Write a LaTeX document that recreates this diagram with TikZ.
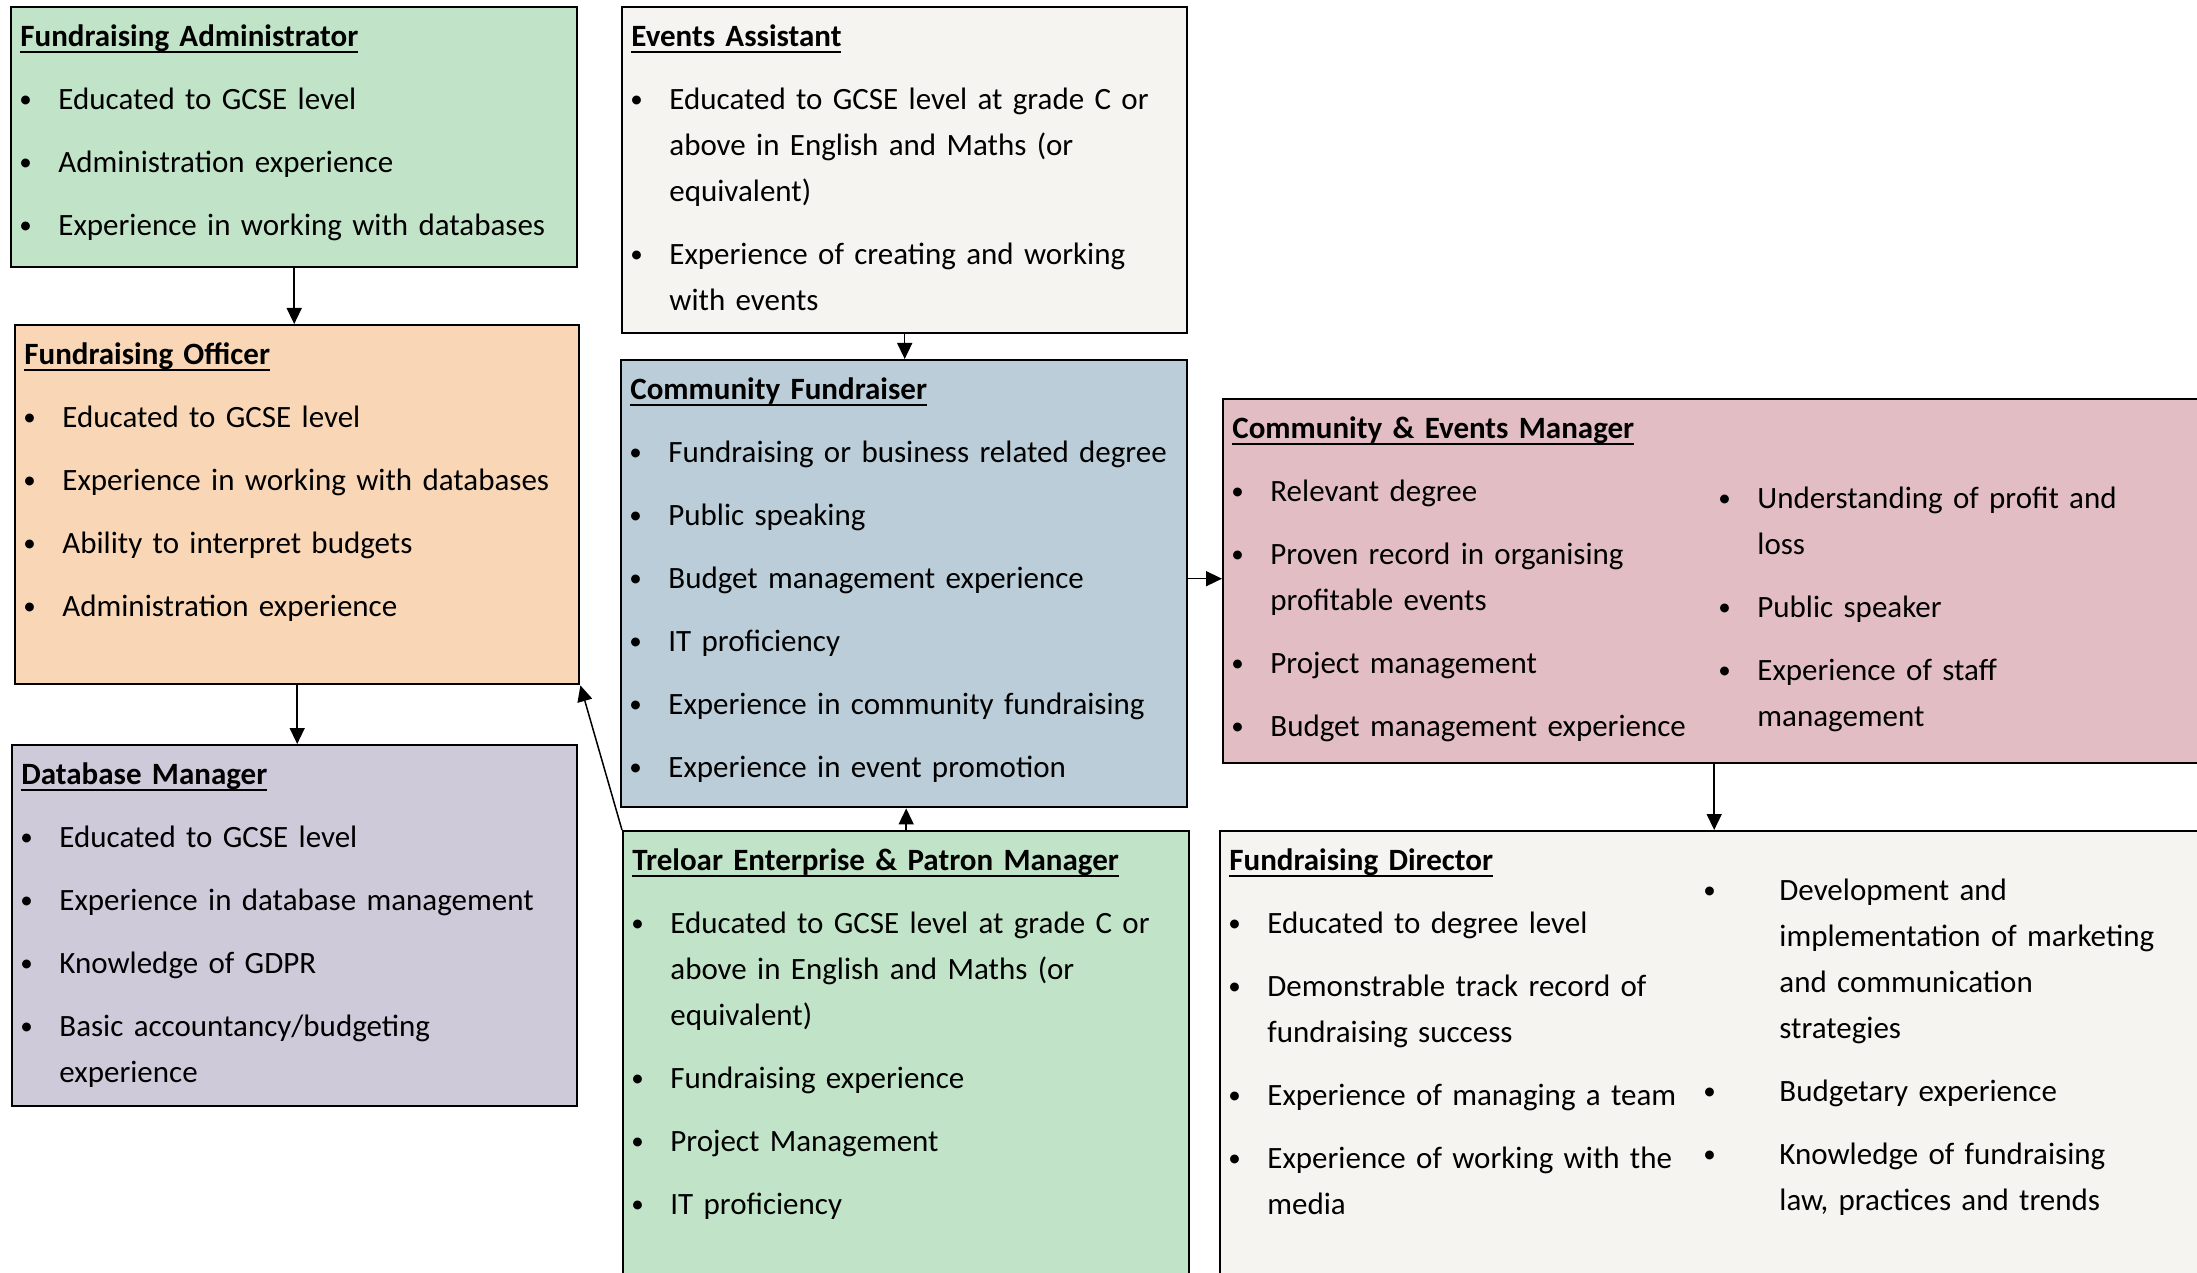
\documentclass[tikz,border=0pt]{standalone}
\usepackage{fontspec}
\setmainfont{Carlito}
\usetikzlibrary{arrows.meta,calc}
\definecolor{greenbox}{HTML}{C1E4C9}
\definecolor{peachbox}{HTML}{F9D7B6}
\definecolor{greybox}{HTML}{BBCDD8}
\definecolor{pinkbox}{HTML}{E2BEC4}
\definecolor{lilacbox}{HTML}{CFCADA}
\definecolor{paperbox}{HTML}{F5F4F0}
\newlength{\dutyindent}
\setlength{\dutyindent}{19pt}
\newcommand{\jobtitle}[1]{\noindent\strut\setbox0\hbox{\bfseries #1}\rlap{\rule[-3pt]{\wd0}{1pt}}\box0\par}
\newcommand{\dutydot}{\raisebox{1pt}{\fontsize{12.5}{12.5}\selectfont\textbullet}}
\newcommand{\duty}[1]{\noindent\hangindent=\dutyindent\hangafter=1\strut\makebox[\dutyindent][l]{\hspace{-0.5pt}\dutydot}#1\par}

\begin{document}
\begin{tikzpicture}[x=0.5pt,y=-0.5pt,
    rolebox/.style={draw=black, line width=1.2pt, anchor=north west, inner sep=0pt},
    duties/.style={anchor=north west, text width=#1, align=left, inner xsep=5pt, inner ysep=4pt,
      font=\fontsize{15.5}{23}\selectfont, execute at begin node={\setlength{\parskip}{8.5pt}}},
    link/.style={line width=0.75pt, -{Triangle[length=8pt,width=7.5pt]}}]
  \clip (0,0) rectangle (2197,1273);
  % boxes
  \node[rolebox, fill=greenbox, minimum width=283pt, minimum height=130pt] (fa) at (10,6) {};
  \node[rolebox, fill=paperbox, minimum width=282.5pt, minimum height=163pt] (ea) at (621,6) {};
  \node[rolebox, fill=peachbox, minimum width=282pt, minimum height=179.5pt] (fo) at (14,324) {};
  \node[rolebox, fill=greybox, minimum width=283pt, minimum height=223.5pt] (cf) at (620,359) {};
  \node[rolebox, fill=pinkbox, minimum width=495pt, minimum height=182pt] (cem) at (1222,398) {};
  \node[rolebox, fill=lilacbox, minimum width=282.5pt, minimum height=180.5pt] (dm) at (11,744) {};
  \node[rolebox, fill=greenbox, minimum width=283pt, minimum height=235pt] (tepm) at (622,830) {};
  \node[rolebox, fill=paperbox, minimum width=497.5pt, minimum height=235pt] (fd) at (1219,830) {};
  % texts
  \node[duties=270pt] (fatext) at (fa.north west) {\jobtitle{Fundraising Administrator}
    \duty{Educated to GCSE level}
    \duty{Administration experience}
    \duty{Experience in working with databases}};
  \node[duties=270pt] (eatext) at (ea.north west) {\jobtitle{Events Assistant}
    \duty{Educated to GCSE level at grade C or\newline above in English and Maths (or\newline equivalent)}
    \duty{Experience of creating and working\newline with events}};
  \node[duties=270pt] (fotext) at (fo.north west) {\jobtitle{Fundraising Officer}
    \duty{Educated to GCSE level}
    \duty{Experience in working with databases}
    \duty{Ability to interpret budgets}
    \duty{Administration experience}};
  \node[duties=270pt] (cftext) at (cf.north west) {\jobtitle{Community Fundraiser}
    \duty{Fundraising or business related degree}
    \duty{Public speaking}
    \duty{Budget management experience}
    \duty{IT proficiency}
    \duty{Experience in community fundraising}
    \duty{Experience in event promotion}};
  \node[duties=240pt] (cemleft) at (cem.north west) {\jobtitle{Community \& Events Manager}
    \duty{Relevant degree}
    \duty{Proven record in organising\newline profitable events}
    \duty{Project management}
    \duty{Budget management experience}};
  \node[duties=240pt] (cemright) at (1709,468) {\duty{Understanding of profit and\newline loss}
    \duty{Public speaker}
    \duty{Experience of staff\newline management}};
  \node[duties=270pt] (dmtext) at (dm.north west) {\jobtitle{Database Manager}
    \duty{Educated to GCSE level}
    \duty{Experience in database management}
    \duty{Knowledge of GDPR}
    \duty{Basic accountancy/budgeting\newline experience}};
  \node[duties=270pt] (tepmtext) at (tepm.north west) {\jobtitle{Treloar Enterprise \& Patron Manager}
    \duty{Educated to GCSE level at grade C or\newline above in English and Maths (or\newline equivalent)}
    \duty{Fundraising experience}
    \duty{Project Management}
    \duty{IT proficiency}};
  \node[duties=240pt] (fdleft) at (fd.north west) {\jobtitle{Fundraising Director}
    \duty{Educated to degree level}
    \duty{Demonstrable track record of\newline fundraising success}
    \duty{Experience of managing a team}
    \duty{Experience of working with the\newline media}};
  \node[duties=240pt] (fdright) at (1694,860) {\setlength{\dutyindent}{37.5pt}%
    \duty{Development and\newline implementation of marketing\newline and communication\newline strategies}
    \duty{Budgetary experience}
    \duty{Knowledge of fundraising\newline law, practices and trends}};
  % arrows
  \draw[link] (fa.south) -- (fa.south |- fo.north);
  \draw[link] (fo.south) -- (fo.south |- dm.north);
  \draw[link] (ea.south) -- (ea.south |- cf.north);
  \draw[link] (tepm.north) -- (tepm.north |- cf.south);
  \draw[link] (tepm.north west) -- (fo.south east);
  \draw[link] ([yshift=2.5pt]cf.east) -- ([yshift=2.5pt]cf.east -| cem.west);
  \draw[link] ([xshift=-2pt]cem.south) -- ([xshift=-2pt]cem.south |- fd.north);
\end{tikzpicture}
\end{document}
